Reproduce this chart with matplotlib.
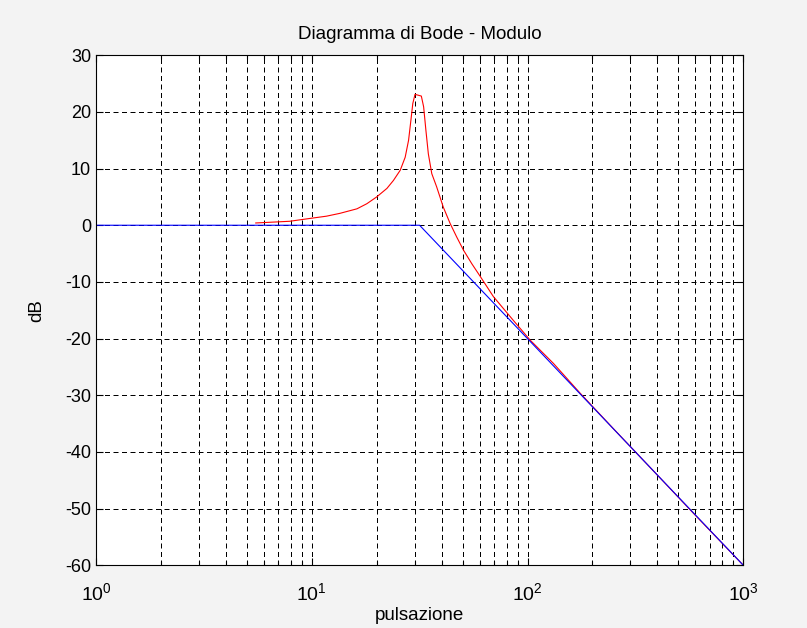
import numpy as np
import matplotlib
matplotlib.use("Agg")
import matplotlib.pyplot as plt
from matplotlib.ticker import LogLocator, FixedLocator, NullFormatter

# -------------------------------------------
# Dati: modulo reale (rosso) e diagramma asintotico (blu)

w_reale = [5.5, 7.9, 9.8, 11.7, 13.5, 16.2, 18, 20, 22.3, 23.9, 25.7, 27.1, 28.1,
           28.8, 29.4, 30.1, 32.2, 33, 33.8, 34.7, 36, 37.9, 40.7, 43.8, 47, 50.5,
           55.2, 60.3, 69.5, 86, 103, 132, 175, 250, 400, 600, 1000]
db_reale = [0.4, 0.7, 1.2, 1.6, 2.1, 2.9, 3.8, 5, 6.5, 7.9, 9.7, 12, 15,
            18.5, 21.5, 23.1, 22.8, 20.9, 16.8, 12.6, 9.1, 6.8, 3.2, 0.3, -2.1, -4.4,
            -6.8, -9.0, -12.6, -16.8, -20.3, -24.4, -29.6, -35.9, -44.1, -51.2, -60]

w_asint = [1, 31.6, 1000]
db_asint = [0, 0, -60]

y_ticks = [-60, -50, -40, -30, -20, -10, 0, 10, 20, 30]

plt.rcParams['font.family'] = ['Liberation Sans', 'DejaVu Sans']
plt.rcParams['mathtext.fontset'] = 'custom'
plt.rcParams['mathtext.rm'] = 'Liberation Sans'
plt.rcParams['mathtext.it'] = 'Liberation Sans'
plt.rcParams['axes.unicode_minus'] = False

fig = plt.figure(figsize=(8.07, 6.28), dpi=100, facecolor='#f3f3f3')
ax = fig.add_axes([0.119, 0.100, 0.802, 0.812])

ax.semilogx(w_reale, db_reale, color='red', linewidth=0.8)
ax.semilogx(w_asint, db_asint, color='blue', linewidth=0.8)

ax.set_xlim(1, 1000)
ax.set_ylim(-60, 30)
ax.yaxis.set_major_locator(FixedLocator(y_ticks))
ax.xaxis.set_major_locator(LogLocator(base=10))
ax.xaxis.set_minor_locator(LogLocator(base=10, subs=np.arange(2, 10)))
ax.xaxis.set_minor_formatter(NullFormatter())

griglia = dict(color='black', linestyle=(0, (5, 3.5)), linewidth=0.72)
ax.grid(True, which='major', **griglia)
ax.grid(True, which='minor', axis='x', **griglia)

ax.tick_params(which='both', direction='in', top=True, right=True, labelsize=13, width=0.8)
ax.tick_params(which='major', length=5)
ax.tick_params(which='minor', length=3)
ax.tick_params(axis='x', which='major', pad=12, labelsize=14)
for s in ax.spines.values():
    s.set_linewidth(0.8)

ax.set_title("Diagramma di Bode - Modulo", fontsize=13.5, pad=12)
ax.set_xlabel("pulsazione", fontsize=13.5, labelpad=2)
ax.set_ylabel("dB", fontsize=13.5, labelpad=14)

plt.savefig('out.png', dpi=100, facecolor=fig.get_facecolor())
